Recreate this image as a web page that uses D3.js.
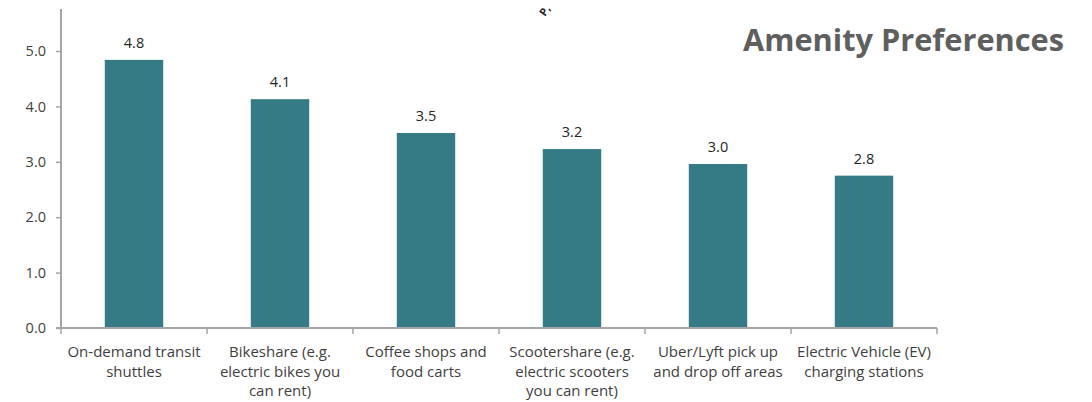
<!DOCTYPE html>
<html>
<head>
<meta charset="utf-8">
<script src="https://cdn.jsdelivr.net/npm/d3@7/dist/d3.min.js"></script>
<style>
  html, body { margin: 0; padding: 0; background: #fff; }
  svg { display: block; }
  text { font-family: "Open Sans", "Noto Sans", sans-serif; }
</style>
</head>
<body>
<svg id="chart" width="1092" height="402"></svg>
<script>
// Average preference score for each amenity
const categories = [
  ["On-demand transit", "shuttles"],
  ["Bikeshare (e.g.", "electric bikes you", "can rent)"],
  ["Coffee shops and", "food carts"],
  ["Scootershare (e.g.", "electric scooters", "you can rent)"],
  ["Uber/Lyft pick up", "and drop off areas"],
  ["Electric Vehicle (EV)", "charging stations"]
];
const scores = [4.84, 4.13, 3.52, 3.23, 2.96, 2.75];
const yTicks = [0, 1, 2, 3, 4, 5];
const title = "Amenity Preferences";

const svg = d3.select("#chart");
const left = 61, right = 937, bottom = 328;
const axisColor = "#a6a6a6";
const textColor = "#3f3f3f";

const x = d3.scaleBand()
  .domain(d3.range(categories.length))
  .range([left, right])
  .paddingInner(0.6).paddingOuter(0.3);

const y = d3.scaleLinear().domain([0, 6]).range([bottom, bottom - 6 * 55.4]);

// bars
svg.append("g").selectAll("rect")
  .data(scores)
  .join("rect")
  .attr("x", (d, i) => x(i))
  .attr("width", x.bandwidth())
  .attr("y", d => y(d))
  .attr("height", d => y(0) - y(d))
  .attr("fill", "#357b86");

// value labels
svg.append("g").selectAll("text")
  .data(scores)
  .join("text")
  .attr("x", (d, i) => x(i) + x.bandwidth() / 2)
  .attr("y", d => y(d) - 12)
  .attr("text-anchor", "middle")
  .attr("font-size", 14.5)
  .attr("fill", "#262626")
  .text(d => d3.format(".1f")(d));

// y axis
const yAxis = svg.append("g")
  .attr("transform", `translate(${left},0)`)
  .call(d3.axisLeft(y).tickValues(yTicks).tickFormat(d3.format(".1f")).tickSize(5).tickPadding(10));
yAxis.select(".domain").remove();
yAxis.append("line")
  .attr("x1", 0).attr("x2", 0).attr("y1", 9).attr("y2", bottom)
  .attr("stroke", axisColor).attr("stroke-width", 2);
yAxis.selectAll(".tick line").attr("stroke", axisColor).attr("stroke-width", 1.5);
yAxis.selectAll(".tick text")
  .attr("font-size", 14.5).attr("fill", textColor)
  .attr("font-family", "'Open Sans', sans-serif");

// x axis with boundary ticks between categories
const boundaries = d3.range(categories.length + 1).map(i => left + i * (right - left) / categories.length);
const xAxis = svg.append("g");
xAxis.append("line")
  .attr("x1", left - 5).attr("x2", right).attr("y1", bottom).attr("y2", bottom)
  .attr("stroke", axisColor).attr("stroke-width", 2);
xAxis.selectAll("line.b")
  .data(boundaries)
  .join("line")
  .attr("class", "b")
  .attr("x1", d => d).attr("x2", d => d)
  .attr("y1", bottom).attr("y2", bottom + 6)
  .attr("stroke", axisColor).attr("stroke-width", 1.5);

// category labels
const labels = svg.append("g").selectAll("text")
  .data(categories)
  .join("text")
  .attr("text-anchor", "middle")
  .attr("font-size", 15)
  .attr("fill", textColor)
  .attr("x", (d, i) => x(i) + x.bandwidth() / 2)
  .attr("y", 357);
labels.selectAll("tspan")
  .data(d => d)
  .join("tspan")
  .attr("x", function () { return this.parentNode.getAttribute("x"); })
  .attr("dy", (d, i) => i === 0 ? 0 : 19.5)
  .text(d => d);

// small rotated heading fragment near the top edge
svg.append("text")
  .attr("transform", "translate(545,17) rotate(-55)")
  .attr("font-size", 11)
  .attr("font-weight", "bold")
  .attr("fill", "#262626")
  .text("P,");

// title
svg.append("text")
  .attr("x", 1064)
  .attr("y", 51)
  .attr("text-anchor", "end")
  .attr("font-size", 30)
  .attr("font-weight", "bold")
  .attr("fill", "#5f5f5f")
  .attr("textLength", 321)
  .attr("lengthAdjust", "spacingAndGlyphs")
  .text(title);
</script>
</body>
</html>
